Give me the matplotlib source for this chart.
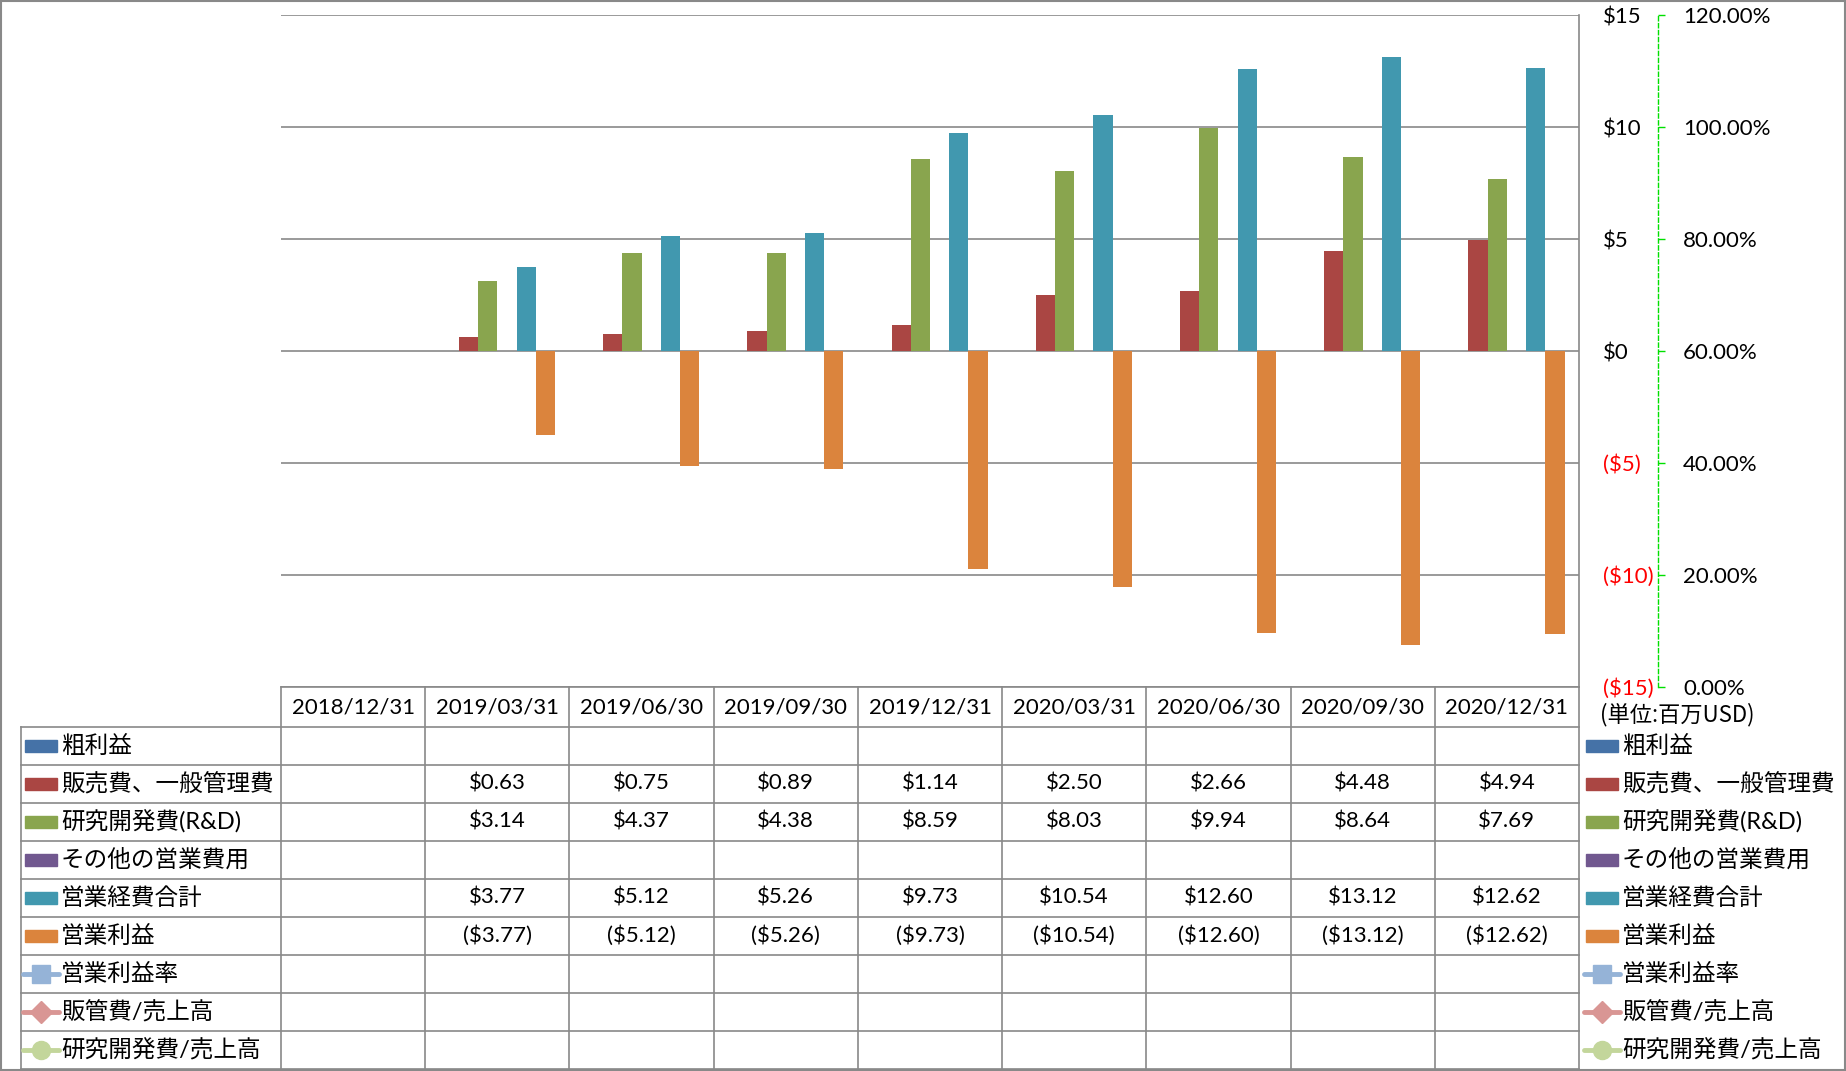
import numpy as np
import matplotlib
matplotlib.use("Agg")
import matplotlib.pyplot as plt
from matplotlib.patches import Rectangle

plt.rcParams['font.family'] = ['Lato', 'Noto Sans CJK JP', 'DejaVu Sans']

nan = np.nan
dates = ['2018/12/31', '2019/03/31', '2019/06/30', '2019/09/30', '2019/12/31',
         '2020/03/31', '2020/06/30', '2020/09/30', '2020/12/31']

gross_profit = [nan] * 9
sga = [nan, 0.63, 0.75, 0.89, 1.14, 2.50, 2.66, 4.48, 4.94]
rnd = [nan, 3.14, 4.37, 4.38, 8.59, 8.03, 9.94, 8.64, 7.69]
other_opex = [nan] * 9
total_opex = [nan, 3.77, 5.12, 5.26, 9.73, 10.54, 12.60, 13.12, 12.62]
op_income = [nan, -3.77, -5.12, -5.26, -9.73, -10.54, -12.60, -13.12, -12.62]
op_margin = [nan] * 9
sga_ratio = [nan] * 9
rnd_ratio = [nan] * 9

bar_names = ['粗利益', '販売費、一般管理費', '研究開発費(R&D)', 'その他の営業費用', '営業経費合計', '営業利益']
bar_data = [gross_profit, sga, rnd, other_opex, total_opex, op_income]
bar_colors = ['#4572A7', '#AA4643', '#89A54E', '#71588F', '#4198AF', '#DB843D']

line_names = ['営業利益率', '販管費/売上高', '研究開発費/売上高']
line_data = [op_margin, sga_ratio, rnd_ratio]
line_colors = ['#95B3D7', '#D99694', '#C3D69B']
line_markers = ['s', 'D', 'o']

W, H = 1846, 1071
PL, PR, PT, PB = 281, 1579, 15, 687   # plot area in pixels
ROW0, ROWH = 727, 38
GRID = '#898989'
JP_SIZE = 17


def money(v):
    if np.isnan(v):
        return ''
    return f'(${-v:.2f})' if v < 0 else f'${v:.2f}'


fig = plt.figure(figsize=(W / 100, H / 100), dpi=100)
ax = fig.add_axes([PL / W, 1 - PB / H, (PR - PL) / W, (PB - PT) / H])

x = np.arange(len(dates))
n = len(bar_data)
w = 1 / (n + 1.5)
for i, (vals, c) in enumerate(zip(bar_data, bar_colors)):
    ax.bar(x + (i - (n - 1) / 2) * w, vals, w, color=c, zorder=3)

ax.set_xlim(-0.5, len(dates) - 0.5)
ax.set_ylim(-15, 15)
ax.set_xticks([])
yt = np.arange(-15, 16, 5)
ax.set_yticks(yt)
ax.set_yticklabels([f'(${-v})' if v < 0 else f'${v}' for v in yt])
ax.yaxis.grid(True, color=GRID, lw=1.2)
ax.set_axisbelow(True)
for s in ['left', 'top', 'bottom']:
    ax.spines[s].set_visible(False)
ax.spines['right'].set_color(GRID)
ax.spines['right'].set_linewidth(1.2)

ax2 = ax.twinx()
# twinx moves the primary ticks to the left, put them back on the right
ax.yaxis.tick_right()
ax.tick_params(axis='y', which='both', left=False, labelleft=False, right=True,
               labelright=True, length=0, pad=17, labelsize=16)

for vals, c, mk in zip(line_data, line_colors, line_markers):
    ax2.plot(x, vals, color=c, marker=mk, lw=3)
ax2.set_ylim(0, 1.2)
pt = np.arange(0, 1.21, 0.2)
ax2.set_yticks(pt)
ax2.set_yticklabels([f'{v * 100:.2f}%' for v in pt])
for s in ['left', 'top', 'bottom']:
    ax2.spines[s].set_visible(False)
ax2.spines['right'].set_position(('outward', 57))
ax2.spines['right'].set_color('#00E000')
ax2.spines['right'].set_linestyle((0, (3, 2)))
ax2.spines['right'].set_linewidth(1)
ax2.tick_params(axis='y', color='#00E000', length=5, width=1, pad=13, labelsize=16)

# negative amounts in red
for tick, v in zip(ax.yaxis.get_major_ticks(), yt):
    tick.label2.set_color('#FF0000' if v < 0 else 'black')

# data table + legend drawn in pixel space
tb = fig.add_axes([0, 0, 1, 1], zorder=5)
tb.set_xlim(0, W)
tb.set_ylim(H, 0)
tb.axis('off')
tb.patch.set_alpha(0)

nrows = len(bar_names) + len(line_names)
col_w = (PR - PL) / len(dates)
bottom = ROW0 + nrows * ROWH
LX = 21
tb.plot([PL, PR], [PB, PB], color=GRID, lw=1.2)
for k in range(nrows + 1):
    tb.plot([LX, PR], [ROW0 + k * ROWH] * 2, color=GRID, lw=1.2)
tb.plot([LX, LX], [ROW0, bottom], color=GRID, lw=1.2)
for k in range(len(dates) + 1):
    tb.plot([PL + k * col_w] * 2, [PB, bottom], color=GRID, lw=1.2)

for k, d in enumerate(dates):
    tb.text(PL + (k + 0.5) * col_w, (PB + ROW0) / 2, d, ha='center', va='center', fontsize=16)

all_vals = bar_data + line_data
for r, vals in enumerate(all_vals):
    yc = ROW0 + (r + 0.5) * ROWH
    for k, v in enumerate(vals):
        tb.text(PL + (k + 0.5) * col_w, yc, money(v), ha='center', va='center', fontsize=16)


def legend_col(x0):
    for r, (name, c) in enumerate(zip(bar_names, bar_colors)):
        yc = ROW0 + (r + 0.5) * ROWH
        tb.add_patch(Rectangle((x0, yc - 6), 32, 12, color=c))
        tb.text(x0 + 36, yc, name, va='center', ha='left', fontsize=JP_SIZE)
    for j, (name, c, mk) in enumerate(zip(line_names, line_colors, line_markers)):
        yc = ROW0 + (len(bar_names) + j + 0.5) * ROWH
        tb.plot([x0 - 2, x0 + 34], [yc, yc], color=c, lw=3.5, solid_capstyle='round')
        tb.plot([x0 + 16], [yc], marker=mk, color=c, markersize=13 if mk != 'D' else 11)
        tb.text(x0 + 36, yc, name, va='center', ha='left', fontsize=JP_SIZE)


legend_col(25)
legend_col(1586)

tb.text(1600, 715, '(単位:百万USD)', ha='left', va='center', fontsize=16,
        family=['Noto Sans CJK JP'])

tb.add_patch(Rectangle((0.5, 0.5), W - 1.5, H - 1.5, fill=False, edgecolor=GRID, lw=1.5))

fig.savefig('out.png', dpi=100)
